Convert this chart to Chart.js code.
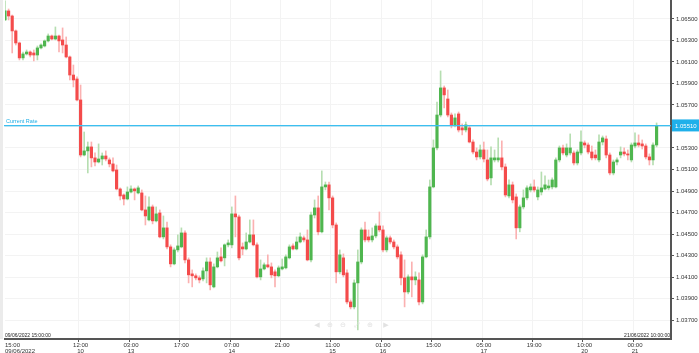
<!DOCTYPE html>
<html>
<head>
<meta charset="utf-8">
<script src="https://cdn.jsdelivr.net/npm/chart.js@4/dist/chart.umd.min.js"></script>
<style>
  html, body { margin: 0; padding: 0; background: #fff; }
  #wrap { width: 699px; height: 353px; position: relative; }
</style>
</head>
<body>
<div id="wrap"><canvas id="rates"></canvas></div>
<script>
// hourly candles, EUR/USD style rates
const opens = [
  1.06491, 1.06575, 1.06528, 1.06389, 1.06277, 1.06138, 1.06175, 1.06193, 1.06184, 1.06165,
  1.06231, 1.06249, 1.06296, 1.06342, 1.06314, 1.06342, 1.06305, 1.06258, 1.06147, 1.05979,
  1.05942, 1.05747, 1.05235, 1.05273, 1.05310, 1.05208, 1.05170, 1.05198, 1.05226, 1.05189,
  1.05152, 1.05096, 1.04919, 1.04863, 1.04826, 1.04891, 1.04919, 1.04882, 1.04882, 1.04724,
  1.04631, 1.04752, 1.04622, 1.04696, 1.04473, 1.04557, 1.04380, 1.04222, 1.04352, 1.04380,
  1.04510, 1.04259, 1.04129, 1.04111, 1.04092, 1.04082, 1.04157, 1.04240, 1.04008, 1.04194,
  1.04287, 1.04278, 1.04399, 1.04399, 1.04687, 1.04659, 1.04380, 1.04361, 1.04426, 1.04492,
  1.04399, 1.04101, 1.04175, 1.04213, 1.04194, 1.04148, 1.04111, 1.04175, 1.04185, 1.04278,
  1.04389, 1.04361, 1.04426, 1.04464, 1.04445, 1.04259, 1.04677, 1.04743, 1.04520, 1.04938,
  1.04957, 1.04836, 1.04584, 1.04148, 1.04278, 1.04138, 1.03868, 1.03822, 1.04045, 1.04240,
  1.04538, 1.04473, 1.04445, 1.04482, 1.04575, 1.04538, 1.04352, 1.04464, 1.04426, 1.04380,
  1.04306, 1.04092, 1.03961, 1.04101, 1.04073, 1.04073, 1.03868, 1.04287, 1.04473, 1.04938,
  1.05301, 1.05607, 1.05859, 1.05756, 1.05607, 1.05515, 1.05617, 1.05487, 1.05468, 1.05487,
  1.05356, 1.05263, 1.05217, 1.05282, 1.05189, 1.05022, 1.05189, 1.05189, 1.05208, 1.05124,
  1.04854, 1.04957, 1.04845, 1.04557, 1.04752, 1.04836, 1.04910, 1.04938, 1.04845, 1.04891,
  1.04919, 1.04929, 1.04938, 1.04938, 1.05189, 1.05301, 1.05235, 1.05254, 1.05254, 1.05161,
  1.05254, 1.05347, 1.05328, 1.05263, 1.05235, 1.05189, 1.05356, 1.05384, 1.05235, 1.05068,
  1.05170, 1.05235, 1.05263, 1.05245, 1.05189, 1.05319, 1.05347, 1.05338, 1.05319, 1.05217,
  1.05189, 1.05328
];
const closes = [
  1.06575, 1.06528, 1.06389, 1.06277, 1.06138, 1.06175, 1.06193, 1.06165, 1.06165, 1.06231,
  1.06258, 1.06296, 1.06342, 1.06314, 1.06342, 1.06296, 1.06258, 1.06147, 1.05979, 1.05933,
  1.05747, 1.05235, 1.05273, 1.05310, 1.05208, 1.05170, 1.05198, 1.05226, 1.05198, 1.05152,
  1.05087, 1.04919, 1.04854, 1.04826, 1.04891, 1.04919, 1.04901, 1.04929, 1.04724, 1.04668,
  1.04752, 1.04622, 1.04687, 1.04473, 1.04557, 1.04380, 1.04222, 1.04352, 1.04389, 1.04510,
  1.04259, 1.04120, 1.04111, 1.04092, 1.04073, 1.04157, 1.04240, 1.04027, 1.04194, 1.04278,
  1.04250, 1.04399, 1.04417, 1.04687, 1.04659, 1.04278, 1.04361, 1.04426, 1.04492, 1.04399,
  1.04101, 1.04175, 1.04213, 1.04194, 1.04120, 1.04111, 1.04185, 1.04194, 1.04287, 1.04380,
  1.04361, 1.04426, 1.04473, 1.04445, 1.04259, 1.04677, 1.04743, 1.04520, 1.04938, 1.04957,
  1.04836, 1.04584, 1.04148, 1.04306, 1.04120, 1.03868, 1.03822, 1.04045, 1.04240, 1.04538,
  1.04445, 1.04445, 1.04482, 1.04575, 1.04538, 1.04352, 1.04464, 1.04426, 1.04380, 1.04287,
  1.04092, 1.03961, 1.04101, 1.04073, 1.04101, 1.03868, 1.04287, 1.04473, 1.04938, 1.05301,
  1.05607, 1.05859, 1.05794, 1.05607, 1.05515, 1.05580, 1.05468, 1.05468, 1.05515, 1.05356,
  1.05263, 1.05217, 1.05282, 1.05198, 1.05012, 1.05208, 1.05208, 1.05208, 1.05124, 1.04863,
  1.04957, 1.04817, 1.04557, 1.04752, 1.04836, 1.04929, 1.04938, 1.04910, 1.04910, 1.04929,
  1.04957, 1.04947, 1.05003, 1.05189, 1.05301, 1.05254, 1.05301, 1.05301, 1.05161, 1.05263,
  1.05356, 1.05328, 1.05263, 1.05208, 1.05208, 1.05356, 1.05394, 1.05235, 1.05068, 1.05170,
  1.05189, 1.05263, 1.05245, 1.05235, 1.05328, 1.05347, 1.05328, 1.05319, 1.05217, 1.05189,
  1.05328, 1.05510
];
const highs = [
  1.06668, 1.06593, 1.06537, 1.06398, 1.06286, 1.06193, 1.06212, 1.06203, 1.06212, 1.06249,
  1.06268, 1.06305, 1.06361, 1.06351, 1.06426, 1.06351, 1.06417, 1.06333, 1.06156, 1.06072,
  1.05961, 1.05886, 1.05449, 1.05356, 1.05356, 1.05254, 1.05338, 1.05254, 1.05273, 1.05208,
  1.05208, 1.05142, 1.04929, 1.04873, 1.04938, 1.04947, 1.04929, 1.04947, 1.04910, 1.04854,
  1.04845, 1.04770, 1.04752, 1.04724, 1.04668, 1.04612, 1.04399, 1.04371, 1.04492, 1.04557,
  1.04529, 1.04278, 1.04166, 1.04129, 1.04111, 1.04185, 1.04278, 1.04278, 1.04222, 1.04333,
  1.04371, 1.04408, 1.04445, 1.04752, 1.04854, 1.04677, 1.04417, 1.04510, 1.04631, 1.04631,
  1.04417, 1.04259, 1.04231, 1.04306, 1.04231, 1.04166, 1.04203, 1.04268, 1.04306, 1.04399,
  1.04408, 1.04473, 1.04510, 1.04482, 1.04538, 1.04705, 1.04817, 1.04854, 1.05087, 1.04984,
  1.04984, 1.04854, 1.04603, 1.04352, 1.04315, 1.04166, 1.03887, 1.04073, 1.04352, 1.04557,
  1.04612, 1.04538, 1.04557, 1.04594, 1.04705, 1.04575, 1.04482, 1.04482, 1.04445, 1.04399,
  1.04333, 1.04259, 1.04120, 1.04240, 1.04148, 1.04138, 1.04306, 1.04538, 1.05003, 1.05375,
  1.05728, 1.06017, 1.05877, 1.05840, 1.05626, 1.05617, 1.05635, 1.05524, 1.05542, 1.05505,
  1.05375, 1.05301, 1.05328, 1.05356, 1.05282, 1.05310, 1.05282, 1.05394, 1.05366, 1.05152,
  1.05003, 1.04984, 1.04873, 1.04770, 1.04910, 1.04947, 1.04966, 1.05003, 1.04938, 1.05077,
  1.05040, 1.05003, 1.05022, 1.05208, 1.05319, 1.05328, 1.05338, 1.05431, 1.05273, 1.05282,
  1.05459, 1.05366, 1.05347, 1.05319, 1.05282, 1.05422, 1.05412, 1.05412, 1.05254, 1.05189,
  1.05208, 1.05310, 1.05301, 1.05282, 1.05347, 1.05440, 1.05422, 1.05375, 1.05338, 1.05245,
  1.05347, 1.05533
];
const lows = [
  1.06485, 1.06491, 1.06184, 1.06258, 1.06119, 1.06119, 1.06165, 1.06147, 1.06110, 1.06119,
  1.06221, 1.06240, 1.06286, 1.06305, 1.06305, 1.06193, 1.06184, 1.06138, 1.05933, 1.05868,
  1.05738, 1.05217, 1.05226, 1.05068, 1.05124, 1.05133, 1.05161, 1.05142, 1.05180, 1.05124,
  1.05077, 1.04910, 1.04817, 1.04770, 1.04817, 1.04882, 1.04817, 1.04873, 1.04715, 1.04584,
  1.04622, 1.04594, 1.04612, 1.04464, 1.04454, 1.04361, 1.04194, 1.04213, 1.04333, 1.04371,
  1.04231, 1.04045, 1.04008, 1.04073, 1.04045, 1.04064, 1.04045, 1.03980, 1.03999, 1.04185,
  1.04240, 1.04203, 1.04380, 1.04371, 1.04473, 1.04259, 1.04306, 1.04352, 1.04417, 1.04389,
  1.04092, 1.04073, 1.04166, 1.04185, 1.04092, 1.04008, 1.04101, 1.04166, 1.04175, 1.04268,
  1.04352, 1.04352, 1.04417, 1.04426, 1.04250, 1.04240, 1.04649, 1.04492, 1.04510, 1.04910,
  1.04724, 1.04557, 1.04045, 1.04129, 1.04101, 1.03850, 1.03803, 1.03803, 1.03608, 1.04222,
  1.04426, 1.04426, 1.04426, 1.04464, 1.04520, 1.04333, 1.04333, 1.04408, 1.04361, 1.04268,
  1.04027, 1.03822, 1.03943, 1.03915, 1.04027, 1.03840, 1.03850, 1.04278, 1.04454, 1.04929,
  1.05282, 1.05589, 1.05673, 1.05589, 1.05487, 1.05496, 1.05449, 1.05422, 1.05449, 1.05347,
  1.05245, 1.05189, 1.05198, 1.05170, 1.04994, 1.04957, 1.05170, 1.05170, 1.05096, 1.04845,
  1.04836, 1.04789, 1.04454, 1.04520, 1.04733, 1.04817, 1.04891, 1.04891, 1.04817, 1.04863,
  1.04910, 1.04910, 1.04919, 1.04929, 1.05170, 1.05235, 1.05217, 1.05235, 1.05142, 1.05142,
  1.05235, 1.05301, 1.05245, 1.05189, 1.05189, 1.05170, 1.05328, 1.05208, 1.05050, 1.05050,
  1.05142, 1.05208, 1.05226, 1.05189, 1.05170, 1.05301, 1.05310, 1.05291, 1.05198, 1.05142,
  1.05142, 1.05310
];

const nSlots = 186;
const tickAt = [0, 21, 35, 49, 63, 77, 91, 105, 119, 133, 147, 161, 175];
const tickTimes = ['15:00', '12:00', '03:00', '17:00', '07:00', '21:00', '11:00', '01:00', '15:00', '05:00', '19:00', '10:00', '00:00'];
const tickDays = ['09/06/2022', '10', '13', '', '14', '', '15', '16', '', '17', '', '20', '21'];
const yTicks = [1.037, 1.039, 1.041, 1.043, 1.045, 1.047, 1.049, 1.051, 1.053, 1.055, 1.057, 1.059, 1.061, 1.063, 1.065];
const currentRate = 1.05510;
const startStamp = '09/06/2022 15:00:00';
const endStamp = '21/06/2022 10:00:00';

const GREEN = '#4fb64f', RED = '#f44b4b';
const GREEN_WICK = '#b6deb1', RED_WICK = '#fbb1b1';
const up = opens.map((o, i) => closes[i] >= o);

const slots = Array.from({length: nSlots}, (_, i) => String(i));
const FONT = '"Liberation Sans", Arial, sans-serif';

const overlay = {
  id: 'overlay',
  afterDraw(chart) {
    const ctx = chart.ctx, xs = chart.scales.x, ys = chart.scales.y, area = chart.chartArea;
    ctx.save();
    // left border band
    ctx.fillStyle = '#ebebeb';
    ctx.fillRect(0, 0, 3, area.bottom);

    // x labels
    ctx.fillStyle = '#333';
    ctx.font = '6px ' + FONT;
    ctx.textBaseline = 'top';
    tickAt.forEach((idx, k) => {
      const x = xs.getPixelForValue(idx);
      ctx.textAlign = k === 0 ? 'left' : 'center';
      const px = k === 0 ? 5 : x;
      ctx.fillText(tickTimes[k], px, area.bottom + 3);
      if (tickDays[k]) ctx.fillText(tickDays[k], px, area.bottom + 9);
    });

    // date stamps on the axis
    ctx.font = '5px ' + FONT;
    ctx.textBaseline = 'alphabetic';
    ctx.textAlign = 'left';
    ctx.fillStyle = '#222';
    ctx.fillText(startStamp, 5, area.bottom - 2);
    ctx.textAlign = 'right';
    ctx.fillText(endStamp, area.right - 1, area.bottom - 2);

    // faint navigation icons
    ctx.fillStyle = '#e2e2e2';
    ctx.font = '7px "DejaVu Sans"';
    ctx.textAlign = 'center';
    ctx.textBaseline = 'middle';
    [['◀', 317], ['⊕', 330], ['⊖', 343], ['⤢', 357], ['⊕', 370], ['▶', 386]].forEach(([c, x]) => ctx.fillText(c, x, 325));

    // current rate line and label
    const y = ys.getPixelForValue(currentRate);
    ctx.fillStyle = '#3cbff0';
    ctx.fillRect(area.left - 1, Math.round(y), area.right - area.left + 1, 1.3);
    ctx.fillStyle = '#1eaee6';
    ctx.font = '5.5px ' + FONT;
    ctx.textAlign = 'left';
    ctx.textBaseline = 'alphabetic';
    ctx.fillText('Current Rate', 6, y - 2);
    ctx.fillStyle = '#1fb0ea';
    ctx.fillRect(area.right + 1, y - 6, 699 - area.right - 1, 12);
    ctx.fillStyle = '#fff';
    ctx.font = '6px ' + FONT;
    ctx.textBaseline = 'middle';
    ctx.fillText(currentRate.toFixed(5), area.right + 4, y + 0.5);
    ctx.restore();
  }
};

new Chart(document.getElementById('rates'), {
  type: 'bar',
  data: {
    labels: slots,
    datasets: [
      {
        label: 'body',
        data: opens.map((o, i) => [o, closes[i]]),
        backgroundColor: up.map(u => u ? GREEN : RED),
        barThickness: 2.5,
        grouped: false,
        order: 0
      },
      {
        label: 'wick',
        data: opens.map((o, i) => [lows[i], highs[i]]),
        backgroundColor: up.map(u => u ? GREEN_WICK : RED_WICK),
        barThickness: 1,
        grouped: false,
        order: 1
      }
    ]
  },
  options: {
    responsive: true,
    maintainAspectRatio: false,
    animation: false,
    layout: {padding: {left: 5, top: 0, right: 0, bottom: 0}},
    plugins: {legend: {display: false}, tooltip: {enabled: false}},
    scales: {
      x: {
        type: 'category',
        offset: false,
        grid: {
          color: c => tickAt.includes(c.index) ? '#f3f3f3' : 'rgba(0,0,0,0)',
          tickColor: c => tickAt.includes(c.index) ? '#555' : 'rgba(0,0,0,0)',
          tickLength: 3
        },
        border: {color: '#555', width: 2},
        ticks: {display: false},
        afterFit: s => { s.height = 14; s.paddingLeft = 0; s.paddingRight = 0; }
      },
      y: {
        position: 'right',
        min: 1.035233,
        max: 1.066767,
        afterBuildTicks: s => { s.ticks = yTicks.map(v => ({value: v})); },
        grid: {color: '#f3f3f3', tickColor: '#555', tickLength: 3},
        border: {color: '#555', width: 2},
        ticks: {
          color: '#333',
          font: {family: FONT, size: 6},
          padding: 2,
          callback: v => Number(v).toFixed(5)
        },
        afterFit: s => { s.width = 28; s.paddingTop = 0; s.paddingBottom = 0; }
      }
    }
  },
  plugins: [overlay]
});
</script>
</body>
</html>
